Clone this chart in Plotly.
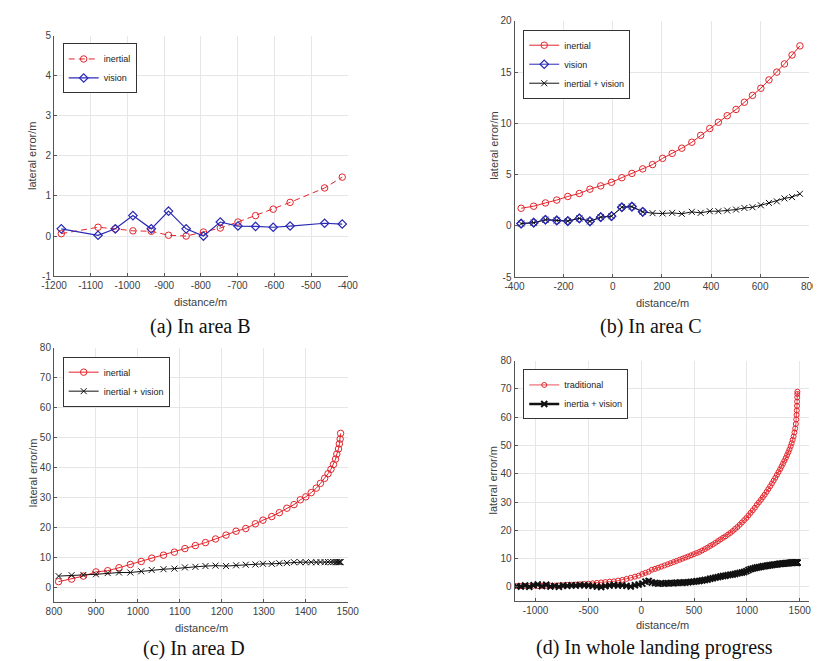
import plotly.graph_objects as go

W, H = 821, 661
def px(x): return x / W
def py(y): return 1 - y / H

RED = "#e3242b"
BLUE = "#2a2ab5"
BLK = "#111111"

# ---------------- (a) In area B ----------------
a_x = [-1180, -1080, -1033, -985, -935, -888, -840, -793, -747, -699, -651, -603, -557, -463, -415]
a_inertial = [0.06, 0.22, 0.18, 0.13, 0.12, 0.02, 0.0, 0.10, 0.20, 0.35, 0.51, 0.67, 0.84, 1.20, 1.47]
a_vision = [0.18, 0.02, 0.18, 0.51, 0.18, 0.62, 0.18, 0.0, 0.35, 0.25, 0.24, 0.22, 0.25, 0.32, 0.30]
a_xticks = [-1200, -1100, -1000, -900, -800, -700, -600, -500, -400]
a_xtext = ["-1200", "-1100", "-1000", "-900", "-800", "-700", "-600", "-500", "-400"]
a_yticks = [-1, 0, 1, 2, 3, 4, 5]
a_ytext = ["-1", "0", "1", "2", "3", "4", "5"]

# ---------------- (b) In area C ----------------
b_x = [-373, -322, -274, -228, -183, -136, -93, -49, -5, 37, 78, 122, 162, 203, 242,
       281, 322, 358, 395, 430, 466, 502, 536, 569, 603, 636, 668, 699, 730, 762]
b_inertial = [1.72, 1.92, 2.24, 2.52, 2.87, 3.16, 3.58, 3.90, 4.25, 4.70, 5.12, 5.56, 5.98, 6.59, 7.07,
              7.58, 8.16, 8.83, 9.50, 10.11, 10.75, 11.36, 12.06, 12.73, 13.43, 14.24, 15.0, 15.8, 16.67, 17.56]
b_vision_x = [-373, -322, -274, -228, -183, -136, -93, -49, -5, 37, 78, 122]
b_vision = [0.22, 0.31, 0.60, 0.53, 0.47, 0.73, 0.44, 0.85, 0.95, 1.82, 1.88, 1.37]
b_fused = [0.22, 0.31, 0.60, 0.53, 0.47, 0.73, 0.44, 0.85, 0.95, 1.82, 1.88, 1.37, 1.24, 1.21, 1.27,
           1.18, 1.37, 1.27, 1.43, 1.43, 1.50, 1.59, 1.75, 1.82, 2.01, 2.24, 2.39, 2.68, 2.81, 3.13]
b_xticks = [-400, -200, 0, 200, 400, 600, 800]
b_xtext = ["-400", "-200", "0", "200", "400", "600", "800"]
b_yticks = [-5, 0, 5, 10, 15, 20]
b_ytext = ["-5", "0", "5", "10", "15", "20"]

# ---------------- (c) In area D ----------------
c_x = [811, 842, 870, 900, 928, 955, 982, 1008, 1033, 1061, 1087, 1112, 1137, 1161, 1185, 1210,
       1234, 1257, 1280, 1298, 1319, 1337, 1355, 1372, 1387, 1400, 1413, 1425, 1435, 1445, 1453,
       1460, 1466, 1471, 1474, 1478, 1480, 1482, 1483]
c_inertial = [1.85, 2.7, 3.7, 5.1, 5.5, 6.5, 7.6, 8.6, 9.7, 10.7, 11.7, 12.9, 13.9, 14.9, 16.1, 17.4,
              18.7, 19.6, 21.2, 22.4, 23.6, 24.9, 26.4, 27.6, 29.2, 30.2, 31.6, 33.1, 34.7, 36.4, 37.9,
              39.4, 41.0, 42.8, 44.5, 46.2, 47.9, 49.5, 51.4]
c_fused = [3.7, 4.0, 4.1, 4.3, 4.7, 4.9, 4.9, 5.3, 5.75, 6.0, 6.2, 6.6, 6.8, 7.05, 7.2, 7.05,
           7.3, 7.5, 7.6, 7.8, 7.8, 8.0, 8.1, 8.35, 8.35, 8.35, 8.35, 8.3, 8.4, 8.35, 8.4,
           8.35, 8.4, 8.35, 8.4, 8.35, 8.4, 8.35, 8.4]
c_xticks = [800, 900, 1000, 1100, 1200, 1300, 1400, 1500]
c_xtext = ["800", "900", "1000", "1100", "1200", "1300", "1400", "1500"]
c_yticks = [0, 10, 20, 30, 40, 50, 60, 70, 80]
c_ytext = ["0", "10", "20", "30", "40", "50", "60", "70", "80"]

# ---------------- (d) In whole landing progress ----------------
d_x = [-1180, -1140, -1100, -1060, -1020, -980, -940, -900, -860, -820, -780, -740, -700, -660,
       -620, -580, -540, -500, -460, -420, -380, -340, -300, -260, -220, -180, -140, -100, -60,
       -25, 10, 40, 70, 100, 130, 160, 190, 220, 250, 278, 306, 334, 362, 390, 417, 444, 471,
       498, 524, 550, 576, 602, 627, 652, 677, 702, 726, 750, 774, 797, 820, 843, 866, 888, 910,
       932, 953, 974, 995, 1015, 1035, 1055, 1075, 1094, 1113, 1132, 1150, 1168, 1186, 1203,
       1220, 1237, 1253, 1269, 1284, 1299, 1314, 1328, 1342, 1355, 1368, 1380, 1392, 1403, 1414,
       1424, 1433, 1442, 1450, 1457, 1463, 1467, 1470, 1472, 1474, 1475, 1476, 1477, 1478]
d_traditional = [0.35, 0.3, 0.4, 0.3, 0.45, 0.35, 0.4, 0.5, 0.45, 0.5, 0.55, 0.6, 0.7, 0.75,
                 0.85, 0.95, 1.05, 1.15, 1.3, 1.45, 1.6, 1.75, 1.9, 2.0, 2.25, 2.5, 2.85, 3.25, 3.65,
                 4.0, 4.6, 5.0, 5.4, 6.1, 6.4, 6.8, 7.2, 7.6, 8.0, 8.4, 8.8, 9.2, 9.6, 10.0, 10.4, 10.8, 11.2,
                 11.6, 12.0, 12.4, 12.9, 13.4, 13.9, 14.5, 15.0, 15.6, 16.2, 16.8, 17.4, 17.9, 18.5, 19.1, 19.8, 20.5, 21.2,
                 22.0, 22.8, 23.6, 24.4, 25.3, 26.2, 27.1, 28.0, 29.0, 29.9, 30.8, 31.7, 32.6, 33.6, 34.6,
                 35.6, 36.6, 37.6, 38.6, 39.6, 40.6, 41.6, 42.6, 43.6, 44.6, 45.6, 46.6, 47.6, 48.6, 49.7,
                 50.8, 52.0, 53.2, 54.6, 56.0, 57.6, 59.2, 60.8, 62.4, 64.0, 65.5, 67.0, 68.2, 69.0]
d_fused = [0.3, 0.2, 0.5, 0.1, 0.6, 0.9, 0.3, 0.8, 0.2, 0.4, 0.1, 0.5, 0.4, 0.6,
           0.5, 0.7, 0.6, 0.5, 0.4, 0.2, 0.0, 0.3, 0.5, 0.7, 0.5, 0.6, 0.4, 0.2, 0.6,
           0.9, 1.2, 1.9, 2.1, 1.6, 1.4, 1.2, 1.3, 1.2, 1.3, 1.4, 1.3, 1.5, 1.6, 1.5, 1.6, 1.7, 1.8,
           1.9, 2.0, 2.1, 2.3, 2.5, 2.6, 2.9, 3.1, 3.3, 3.5, 3.7, 3.9, 4.0, 4.2, 4.3, 4.4, 4.6, 4.8,
           5.0, 5.1, 5.3, 5.6, 6.0, 6.3, 6.5, 6.7, 6.9, 7.0, 7.1, 7.3, 7.3, 7.5, 7.6,
           7.7, 7.8, 7.9, 7.9, 8.0, 8.1, 8.2, 8.2, 8.3, 8.3, 8.4, 8.4, 8.5, 8.5, 8.6,
           8.6, 8.6, 8.6, 8.6, 8.6, 8.6, 8.6, 8.6, 8.6, 8.6, 8.6, 8.6, 8.6, 8.6]
d_xticks = [-1000, -500, 0, 500, 1000, 1500]
d_xtext = ["-1000", "-500", "0", "500", "1000", "1500"]
d_yticks = [0, 10, 20, 30, 40, 50, 60, 70, 80]
d_ytext = ["0", "10", "20", "30", "40", "50", "60", "70", "80"]

captions = ["(a) In area B", "(b) In area C", "(c) In area D", "(d) In whole landing progress"]

fig = go.Figure()

def circ(size=6, color=RED):
    return dict(symbol="circle-open", size=size, color=color, line=dict(width=1, color=color))

def diam():
    return dict(symbol="diamond-open", size=6.5, color=BLUE, line=dict(width=1.2, color=BLUE))

def xmark(width=1, size=6):
    return dict(symbol="x-thin", size=size, color=BLK, line=dict(width=width, color=BLK))

# (a)
fig.add_trace(go.Scatter(x=a_x, y=a_inertial, mode="lines+markers", name="inertial",
                         line=dict(color=RED, width=1, dash="6px,4px"), marker=circ(6.5),
                         xaxis="x", yaxis="y", legend="legend"))
fig.add_trace(go.Scatter(x=a_x, y=a_vision, mode="lines+markers", name="vision",
                         line=dict(color=BLUE, width=1.2), marker=diam(),
                         xaxis="x", yaxis="y", legend="legend"))
# (b)
fig.add_trace(go.Scatter(x=b_x, y=b_inertial, mode="lines+markers", name="inertial",
                         line=dict(color=RED, width=1), marker=circ(6.5),
                         xaxis="x2", yaxis="y2", legend="legend2"))
fig.add_trace(go.Scatter(x=b_vision_x, y=b_vision, mode="lines+markers", name="vision",
                         line=dict(color=BLUE, width=1), marker=diam(),
                         xaxis="x2", yaxis="y2", legend="legend2"))
fig.add_trace(go.Scatter(x=b_x, y=b_fused, mode="lines+markers", name="inertial + vision",
                         line=dict(color=BLK, width=1), marker=xmark(1, 6),
                         xaxis="x2", yaxis="y2", legend="legend2"))
fig.add_trace(go.Scatter(x=b_vision_x, y=b_vision, mode="markers", showlegend=False,
                         marker=diam(), xaxis="x2", yaxis="y2", hoverinfo="skip"))
# (c)
fig.add_trace(go.Scatter(x=c_x, y=c_inertial, mode="lines+markers", name="inertial",
                         line=dict(color=RED, width=1), marker=circ(6.5),
                         xaxis="x3", yaxis="y3", legend="legend3"))
fig.add_trace(go.Scatter(x=c_x, y=c_fused, mode="lines+markers", name="inertial + vision",
                         line=dict(color=BLK, width=1), marker=xmark(1, 6),
                         xaxis="x3", yaxis="y3", legend="legend3"))
# (d)
fig.add_trace(go.Scatter(x=d_x, y=d_traditional, mode="lines+markers", name="traditional",
                         line=dict(color=RED, width=0.8), marker=circ(5),
                         xaxis="x4", yaxis="y4", legend="legend4"))
fig.add_trace(go.Scatter(x=d_x, y=d_fused, mode="lines+markers", name="inertia + vision",
                         line=dict(color=BLK, width=2.5), marker=xmark(2, 6),
                         xaxis="x4", yaxis="y4", legend="legend4"))

TICKFONT = dict(family="Liberation Sans Narrow, Liberation Sans, Arial", size=10, color="#404040")

def xax(dom, rng, tv, tt, anchor):
    return dict(domain=[px(dom[0]), px(dom[1])], range=rng, tickvals=tv, ticktext=tt, anchor=anchor,
                showgrid=True, gridcolor="#e6e6e6", gridwidth=1, zeroline=False,
                showline=True, linecolor="#555555", linewidth=1, mirror=False,
                ticks="inside", ticklen=3, tickcolor="#555555", tickfont=TICKFONT)

def yax(dom, rng, tv, tt, anchor):
    return dict(domain=[py(dom[1]), py(dom[0])], range=rng, tickvals=tv, ticktext=tt, anchor=anchor,
                showgrid=True, gridcolor="#e6e6e6", gridwidth=1, zeroline=False,
                showline=True, linecolor="#555555", linewidth=1, mirror=False,
                ticks="inside", ticklen=3, tickcolor="#555555", tickfont=TICKFONT)

LEGFONT = dict(family="Liberation Sans, Arial", size=9, color="#222222")
def leg(x, y):
    return dict(x=px(x), y=py(y), xanchor="left", yanchor="top", bgcolor="white",
                bordercolor="#333333", borderwidth=1, font=LEGFONT, itemwidth=30,
                tracegroupgap=0)

annotations = []
TITLEFONT = dict(family="Liberation Sans Narrow, Liberation Sans, Arial", size=11, color="#404040")
for (ax_, ay_, tx, ty) in [(12, 145, 185, 293), (487, 134, 662, 294), (12, 468, 186, 625), (487, 475, 662, 622)]:
    annotations.append(dict(x=px(ax_), y=py(ay_), xref="paper", yref="paper", text="lateral error/m",
                            textangle=-90, showarrow=False, font=TITLEFONT, xanchor="center", yanchor="middle"))
    annotations.append(dict(x=px(tx), y=py(ty), xref="paper", yref="paper", text="distance/m",
                            showarrow=False, font=TITLEFONT, xanchor="center", yanchor="middle"))
CAPFONT = dict(family="Liberation Serif, Times New Roman", size=20, color="#111111")
for cap, (cx, cy) in zip(captions, [(185, 318), (650, 318), (178, 646), (653, 645)]):
    annotations.append(dict(x=px(cx), y=py(cy), xref="paper", yref="paper", text=cap,
                            showarrow=False, font=CAPFONT, xanchor="center", yanchor="middle"))

fig.update_layout(
    width=W, height=H, autosize=False,
    margin=dict(l=0, r=0, t=0, b=0),
    paper_bgcolor="white", plot_bgcolor="white",
    xaxis=xax((34, 337), [-1200, -400], a_xticks, a_xtext, "y"),
    yaxis=yax((22, 267), [-1, 5], a_yticks, a_ytext, "x"),
    xaxis2=xax((509, 813), [-400, 800], b_xticks, b_xtext, "y2"),
    yaxis2=yax((7, 268), [-5, 20], b_yticks, b_ytext, "x2"),
    xaxis3=xax((34, 337), [800, 1500], c_xticks, c_xtext, "y3"),
    yaxis3=yax((340, 599), [-5, 80], c_yticks, c_ytext, "x3"),
    xaxis4=xax((509, 813), [-1200, 1590], d_xticks, d_xtext, "y4"),
    yaxis4=yax((353, 598), [-5, 80], d_yticks, d_ytext, "x4"),
    legend=leg(43, 30), legend2=leg(518, 16), legend3=leg(43, 349), legend4=leg(518, 362),
    annotations=annotations,
    showlegend=True,
)

fig.write_html("out.html")
